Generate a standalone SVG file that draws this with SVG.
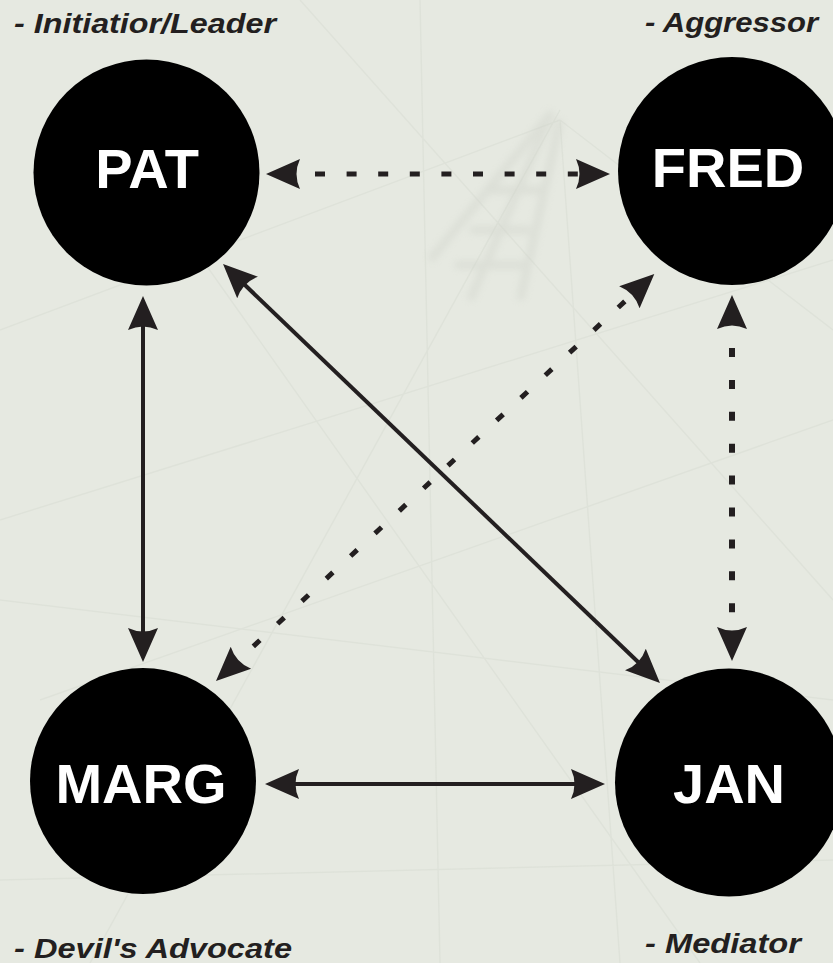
<svg xmlns="http://www.w3.org/2000/svg" width="833" height="963" viewBox="0 0 833 963">
  <style>
    .node circle { fill: #000; }
    .name { font-family: "Liberation Sans", Arial, sans-serif; font-weight: bold; font-size: 56px; fill: #fff; text-anchor: middle; }
    .role { font-family: "Liberation Sans", Arial, sans-serif; font-weight: bold; font-style: italic; font-size: 28px; fill: #231f20; }
    .link { fill: none; stroke: #231f20; marker-start: url(#head); marker-end: url(#head); }
    .solid { stroke-width: 4; }
    .sketch { fill: none; stroke: #d6dad1; stroke-width: 1.5; opacity: 0.45; }
  </style>
  <defs>
    <!-- swept arrowhead; origin sits at the notch, tip points along +x -->
    <marker id="head" markerUnits="userSpaceOnUse" markerWidth="40" markerHeight="34" refX="0" refY="0" orient="auto-start-reverse" overflow="visible">
      <path d="M26,0 L-8,-15 Q-1,0 -8,15 Z" fill="#231f20"/>
    </marker>
    <filter id="soft" x="-20%" y="-20%" width="140%" height="140%">
      <feGaussianBlur stdDeviation="3.5"/>
    </filter>
  </defs>

  <!-- paper background -->
  <rect width="833" height="963" fill="#e6e9e1"/>

  <!-- faint pencil sketch behind the chart -->
  <g id="backdrop">
    <g class="sketch">
      <path d="M0,330 L560,120 M0,520 L833,260 M40,700 L833,420 M90,963 L560,110"/>
      <path d="M300,0 L833,600 M160,200 L700,963 M0,600 L833,700 M420,0 L440,963"/>
      <path d="M560,120 L833,330 M560,120 L620,963 M0,880 L833,860"/>
    </g>
    <g fill="none" stroke="#cdd0c8" stroke-width="8" opacity="0.4" filter="url(#soft)">
      <path d="M552,112 L470,300 M560,120 L520,300 M552,112 L430,260"/>
      <path d="M470,230 L530,230 M455,265 L525,265 M490,190 L545,190"/>
    </g>
  </g>

  <!-- connectors -->
  <g id="connectors">
    <path id="pat-fred" class="link" d="M292,174 H584" stroke-width="5" stroke-dasharray="10 21.6" stroke-dashoffset="8.6"/>
    <path id="pat-marg" class="link solid" d="M143,322 V636"/>
    <path id="pat-jan" class="link solid" d="M241.8,282 L641.2,665"/>
    <path id="fred-marg" class="link" d="M635.25,291.7 L235.05,663.3" stroke-width="5" stroke-dasharray="9 24.2" stroke-dashoffset="19"/>
    <path id="fred-jan" class="link" d="M732,321 V635" stroke-width="6" stroke-dasharray="9 22.9" stroke-dashoffset="4.9"/>
    <path id="marg-jan" class="link solid" d="M291,784 H579"/>
  </g>

  <!-- people -->
  <g id="pat" class="node">
    <circle cx="146.5" cy="172.5" r="113"/>
    <text class="name" x="147" y="188">PAT</text>
    <text class="role" x="14" y="33" textLength="262" lengthAdjust="spacingAndGlyphs">- Initiatior/Leader</text>
  </g>
  <g id="fred" class="node">
    <circle cx="732" cy="171" r="114"/>
    <text class="name" x="728" y="187">FRED</text>
    <text class="role" x="645" y="32" textLength="173" lengthAdjust="spacingAndGlyphs">- Aggressor</text>
  </g>
  <g id="marg" class="node">
    <circle cx="143" cy="781" r="113"/>
    <text class="name" x="141" y="803">MARG</text>
    <text class="role" x="14" y="958" textLength="278" lengthAdjust="spacingAndGlyphs">- Devil's Advocate</text>
  </g>
  <g id="jan" class="node">
    <circle cx="729" cy="782.5" r="114"/>
    <text class="name" x="729" y="803">JAN</text>
    <text class="role" x="645" y="953" textLength="156" lengthAdjust="spacingAndGlyphs">- Mediator</text>
  </g>
</svg>
